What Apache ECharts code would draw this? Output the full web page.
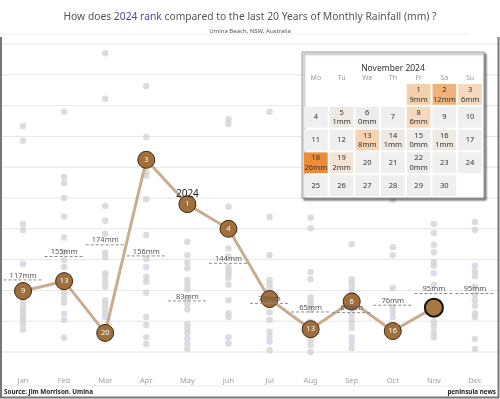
<!DOCTYPE html>
<html><head><meta charset="utf-8">
<script src="https://cdn.jsdelivr.net/npm/echarts@6/dist/echarts.min.js"></script>
<style>html,body{margin:0;padding:0;background:#fff}#c{width:500px;height:399px}</style>
</head><body><div id="c"></div>
<script>
// ---- data ----
const months = ['Jan','Feb','Mar','Apr','May','Jun','Jul','Aug','Sep','Oct','Nov','Dec'];
// previous 20 years monthly rainfall (mm)
const jan = [367, 343, 208, 198, 84, 76, 69, 63, 57, 52, 45, 36];
const feb = [390, 284, 274, 250, 220, 186, 162, 149, 138, 125, 96, 88, 80, 52, 23];
const mar = [485, 411, 237, 213, 192, 161, 154, 128, 122, 114, 106, 84, 78, 71, 63];
const apr = [432, 349, 292, 286, 248, 190, 151, 122, 114, 96, 57, 44, 24, 13];
const may = [179, 157, 145, 136, 117, 109, 102, 87, 78, 69, 45, 38, 31, 14, 5];
const jun = [378, 370, 236, 168, 155, 138, 132, 127, 120, 109, 84, 63, 57, 14];
const jul = [390, 219, 157, 117, 110, 103, 76, 64, 52, 33, 25, 3];
const aug = [218, 201, 130, 118, 83, 76, 68, 49, 42, 19, 11, 0];
const sep = [175, 118, 112, 105, 97, 73, 63, 55, 47, 39, 15, 6];
const oct = [247, 170, 157, 104, 73, 65, 40, 30];
const nov = [208, 193, 174, 162, 146, 140, 109, 80, 49, 42, 32, 24];
const dec = [211, 198, 131, 123, 106, 93, 84, 75, 63, 57, 21, 5];
// one highlighted (lavender) year
const otherYear = [143, 62, 57, 138, 22, 24, 17, 89, 24, 57, 128, 140];
// 2024
const rain2024 = [99, 115, 31, 312, 240, 200, 86, 37, 82, 34, 72, null];
const rank2024 = [9, 13, 20, 3, 1, 4, null, 13, 6, 16, null, null];
// 20-year monthly averages
const avg20 = [117, 155, 174, 156, 83, 144, 79, 65, 64, 76, 95, 95];
const gridValues = [0, 50, 100, 150, 200, 250, 300, 350, 400, 450, 500];
// November 2024 daily rainfall
const calDays = [1, 2, 3, 5, 6, 8, 13, 14, 15, 16, 18, 19, 22];
const calMm   = [9, 12, 6, 1, 0, 6, 8, 1, 0, 1, 26, 2, 0];
const novDays = 30;

// ---- build ----
const hist = [jan, feb, mar, apr, may, jun, jul, aug, sep, oct, nov, dec];
const dotData = [];
hist.forEach((arr, i) => arr.forEach(v => dotData.push([i, v])));
const lavData = otherYear.map((v, i) => [i, v]);
const lineData = rain2024.map((v, i) => {
  if (i === 10) return {value: v, symbolSize: 18, itemStyle: {color: '#a67944', borderColor: '#111', borderWidth: 2}};
  return v;
});
const calData = [];
for (let d = 1; d <= novDays; d++) calData.push(['2024-11-' + (d < 10 ? '0' + d : d), d]);

const stops = [[0, [236,236,236]], [1, [239,233,228]], [2, [243,228,214]], [9, [245,208,172]], [12, [240,178,124]], [26, [237,140,56]]];
function colorFor(mm) {
  for (let k = 1; k < stops.length; k++) {
    if (mm <= stops[k][0]) {
      const a = stops[k-1], b = stops[k];
      const t = (mm - a[0]) / (b[0] - a[0]);
      const c = a[1].map((x, j) => Math.round(x + (b[1][j] - x) * t));
      return 'rgb(' + c.join(',') + ')';
    }
  }
  return 'rgb(237,140,56)';
}

const FONT = '"Noto Sans", sans-serif';
const chart = echarts.init(document.getElementById('c'), null, {renderer: 'canvas'});
chart.setOption({
  animation: false,
  title: [
    {text: '{a|How does }{b|2024 rank}{a| compared to the last 20 Years of Monthly Rainfall (mm) ?}',
     left: 'center', top: 7, textStyle: {fontWeight: 'normal', rich: {
       a: {fontSize: 10.3, color: '#555', fontFamily: FONT, fontWeight: 'normal'},
       b: {fontSize: 10.3, color: '#4f479c', fontFamily: FONT, fontWeight: 'normal'}}}},
    {text: 'Umina Beach, NSW, Australia', left: 'center', top: 23,
     textStyle: {fontSize: 6, color: '#555', fontWeight: 'normal', fontFamily: FONT}}
  ],
  grid: {left: 2.5, right: 4.5, top: 44, bottom: 29, containLabel: false},
  xAxis: {type: 'category', data: months, axisLine: {show: false}, axisTick: {show: false},
    splitLine: {show: false}, axisLabel: {color: '#a0a0a0', fontSize: 7.5, margin: 7, fontFamily: FONT}},
  yAxis: {type: 'value', min: -29.2, max: 500, show: false, splitLine: {show: false}},
  calendar: {
    orient: 'vertical', range: '2024-11', left: 303, top: 83, cellSize: [25.7, 22.8], z: 7,
    splitLine: {show: false}, itemStyle: {color: 'rgba(0,0,0,0)', borderWidth: 0},
    dayLabel: {firstDay: 1, nameMap: ['Su','Mo','Tu','We','Th','Fr','Sa'], color: '#999', fontSize: 7, margin: 2, position: 'start', fontFamily: FONT},
    monthLabel: {show: false}, yearLabel: {show: false}
  },
  graphic: [
    {type: 'line', z: 1, shape: {x1: 0, y1: 34, x2: 470, y2: 34}, style: {stroke: '#eeeeee', lineWidth: 1}},
    {type: 'polyline', z: 10, shape: {points: [[1, 37], [1, 397.5], [498.5, 397.5], [498.5, 37]]}, style: {stroke: '#777', lineWidth: 2, fill: null}},
    {type: 'line', z: 1, shape: {x1: 2, y1: 386, x2: 497, y2: 386}, style: {stroke: '#e8e8e8', lineWidth: 1}},
    {type: 'text', z: 10, style: {text: 'Source: Jim Morrison. Umina', x: 4, y: 392, verticalAlign: 'middle', fill: '#222', fontSize: 6.3, fontWeight: 'bold', fontFamily: FONT}},
    {type: 'text', z: 10, style: {text: 'peninsula news', x: 496, y: 392, align: 'right', verticalAlign: 'middle', fill: '#222', fontSize: 6.3, fontWeight: 'bold', fontFamily: FONT}},
    {type: 'rect', z: 6, shape: {x: 302, y: 52, width: 182, height: 146},
     style: {fill: '#fff', stroke: '#999', lineWidth: 1, shadowColor: 'rgba(0,0,0,0.5)', shadowOffsetX: 2, shadowOffsetY: 2, shadowBlur: 2}},
    {type: 'text', z: 7, style: {text: 'November 2024', x: 393, y: 69, align: 'center', verticalAlign: 'middle', fill: '#333', fontSize: 8.5, fontFamily: FONT}}
  ],
  series: [
    {type: 'custom', z: 1, silent: true, data: gridValues.map(v => [0, v]),
     renderItem: (params, api) => {
       const y = api.coord([0, api.value(1)])[1];
       return {type: 'line', shape: {x1: 0, y1: y, x2: 500, y2: y}, style: {stroke: '#e6e6e6', lineWidth: 1}};
     }},
    {type: 'scatter', z: 2, data: dotData, symbol: 'circle', symbolSize: 6.5, itemStyle: {color: '#d3d3d3'}, silent: true},
    {type: 'scatter', z: 2, data: lavData, symbol: 'circle', symbolSize: 6.5, itemStyle: {color: '#d2d2ea'}, silent: true},
    {type: 'line', z: 3, data: lineData, symbol: 'circle', symbolSize: 17,
     lineStyle: {color: '#c9ad8f', width: 3},
     itemStyle: {color: '#a0703c', borderColor: '#3a2714', borderWidth: 1},
     label: {show: true, position: 'inside', color: '#fff', fontSize: 7.5, fontFamily: FONT,
       formatter: p => rank2024[p.dataIndex] == null ? '' : String(rank2024[p.dataIndex])},
     markPoint: {symbol: 'circle', symbolSize: 0, silent: true,
       label: {show: true, formatter: '2024', color: '#222', fontSize: 10, offset: [0, -10], fontFamily: FONT},
       data: [{coord: [4, rain2024[4]]}]}},
    {type: 'custom', z: 5, silent: true, data: avg20.map((v, i) => [i, v]),
     renderItem: (params, api) => {
       const c = api.coord([api.value(0), api.value(1)]);
       const bw = api.size([1, 0])[0];
       return {type: 'group', children: [
         {type: 'line', shape: {x1: c[0] - bw / 2 + 1, y1: c[1], x2: c[0] + bw / 2 - 2, y2: c[1]},
          style: {stroke: '#8c8c8c', lineWidth: 1, lineDash: [3, 2]}},
         {type: 'text', style: {text: api.value(1) + 'mm', x: c[0], y: c[1] - 0.5, align: 'center', verticalAlign: 'bottom',
          fill: '#555', fontSize: 7.5, fontFamily: FONT}}
       ]};
     }},
    {type: 'custom', coordinateSystem: 'calendar', z: 8, silent: true, data: calData,
     renderItem: (params, api) => {
       const pt = api.coord(api.value(0));
       const cw = params.coordSys.cellWidth, ch = params.coordSys.cellHeight;
       const day = api.value(1);
       const k = calDays.indexOf(day);
       const has = k >= 0;
       const fill = has ? colorFor(calMm[k]) : '#efefef';
       const children = [
         {type: 'rect', shape: {x: pt[0] - cw / 2 + 1, y: pt[1] - ch / 2 + 1, width: cw - 2, height: ch - 2}, style: {fill: fill}}
       ];
       if (has) {
         children.push({type: 'text', style: {text: String(day), x: pt[0], y: pt[1] - 4.5, align: 'center', verticalAlign: 'middle', fill: '#333', fontSize: 7.5, fontFamily: FONT}});
         children.push({type: 'text', style: {text: calMm[k] + 'mm', x: pt[0], y: pt[1] + 5, align: 'center', verticalAlign: 'middle', fill: '#333', fontSize: 7.5, fontFamily: FONT}});
       } else {
         children.push({type: 'text', style: {text: String(day), x: pt[0], y: pt[1], align: 'center', verticalAlign: 'middle', fill: '#333', fontSize: 7.5, fontFamily: FONT}});
       }
       return {type: 'group', children: children};
     }}
  ]
});
</script></body></html>
